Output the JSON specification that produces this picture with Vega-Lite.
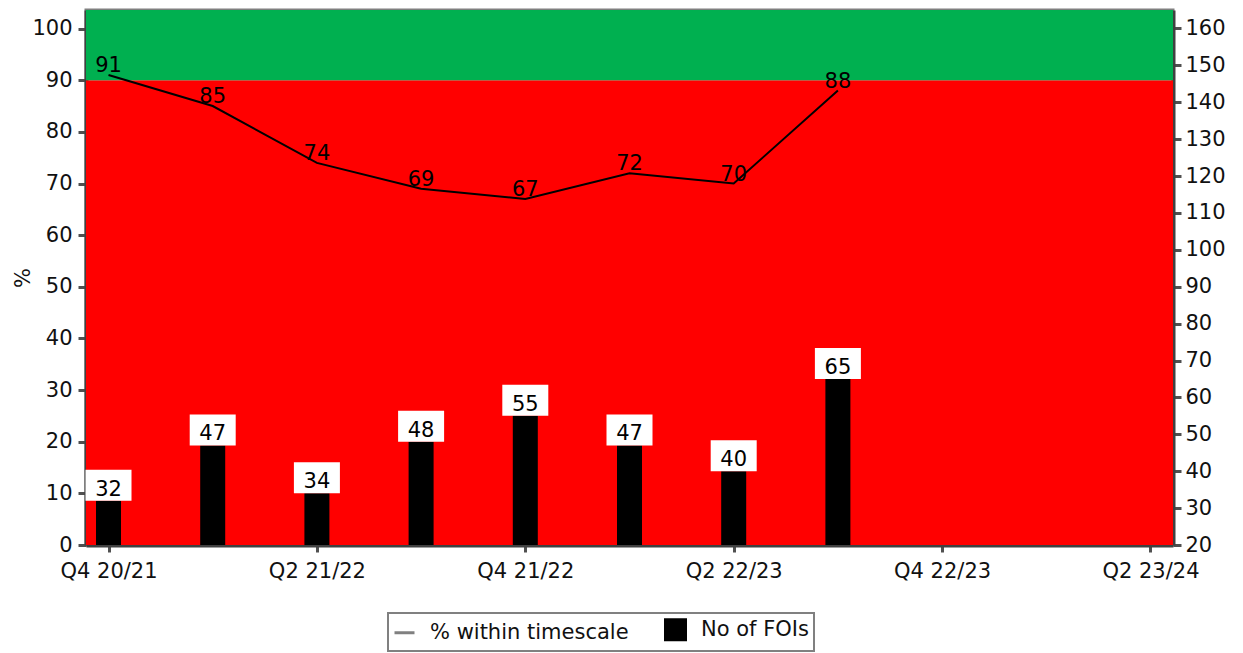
{
  "$schema": "https://vega.github.io/schema/vega-lite/v6.json",
  "width": 1087,
  "height": 535,
  "autosize": "none",
  "padding": {"left": 86, "top": 10, "right": 70, "bottom": 108},
  "background": "white",
  "config": {
    "font": "DejaVu Sans",
    "view": {"stroke": "#7f7f7f", "strokeWidth": 3},
    "axis": {
      "labelFont": "DejaVu Sans",
      "labelFontSize": 21,
      "labelColor": "#111111",
      "labelOverlap": false,
      "domainColor": "#404040",
      "domainWidth": 4,
      "tickColor": "#505050",
      "tickWidth": 3,
      "grid": false,
      "titleFont": "DejaVu Sans",
      "titleFontWeight": "normal",
      "titleFontSize": 21,
      "titleColor": "#111111"
    }
  },
  "datasets": {
    "perf": [
      {"quarter": "Q4 20/21", "pct": 91, "fois": 32},
      {"quarter": "Q1 21/22", "pct": 85, "fois": 47},
      {"quarter": "Q2 21/22", "pct": 74, "fois": 34},
      {"quarter": "Q3 21/22", "pct": 69, "fois": 48},
      {"quarter": "Q4 21/22", "pct": 67, "fois": 55},
      {"quarter": "Q1 22/23", "pct": 72, "fois": 47},
      {"quarter": "Q2 22/23", "pct": 70, "fois": 40},
      {"quarter": "Q3 22/23", "pct": 88, "fois": 65}
    ],
    "bands": [
      {"band": "below target", "from": 0, "to": 90},
      {"band": "on target", "from": 90, "to": 103.6}
    ]
  },
  "layer": [
    {
      "layer": [
        {
          "data": {"name": "bands"},
          "mark": {"type": "rect"},
          "encoding": {
            "y": {"field": "from", "type": "quantitative", "scale": {"domain": [0, 103.6], "nice": false, "zero": false},
              "axis": {"title": "%", "orient": "left", "values": [0,10,20,30,40,50,60,70,80,90,100], "tickSize": 8, "labelPadding": 6, "titlePadding": -2, "labelOverlap": false}},
            "y2": {"field": "to"},
            "fill": {"field": "band", "type": "nominal", "scale": {"domain": ["below target", "on target"], "range": ["#ff0000", "#00b050"]}, "legend": null}
          }
        },
        {
          "data": {"name": "perf"},
          "mark": {"type": "line", "strokeWidth": 2, "color": "black"},
          "encoding": {
            "x": {"field": "quarter", "type": "ordinal", "sort": null,
              "scale": {"type": "point", "padding": 0.216, "domain": ["Q4 20/21","Q1 21/22","Q2 21/22","Q3 21/22","Q4 21/22","Q1 22/23","Q2 22/23","Q3 22/23","Q4 22/23","Q1 23/24","Q2 23/24"]},
              "axis": {"title": null, "labelAngle": 0, "values": ["Q4 20/21","Q2 21/22","Q4 21/22","Q2 22/23","Q4 22/23","Q2 23/24"], "tickSize": 7, "labelPadding": 8}},
            "y": {"field": "pct", "type": "quantitative", "axis": {"title": "%"}}
          }
        },
        {
          "data": {"name": "perf"},
          "transform": [{"filter": "datum.pct < 0"}],
          "mark": {"type": "line", "strokeWidth": 3},
          "encoding": {
            "x": {"field": "quarter", "type": "ordinal", "sort": null},
            "y": {"field": "pct", "type": "quantitative", "axis": {"title": "%"}},
            "color": {"datum": "% within timescale", "type": "nominal",
              "scale": {"domain": ["% within timescale", "No of FOIs"], "range": ["#808080", "black"]},
              "legend": {
                "title": null, "orient": "none", "legendX": 302, "legendY": 603, "direction": "horizontal",
                "padding": 5, "strokeColor": "#808080", "fillColor": "white",
                "labelFont": "DejaVu Sans", "labelFontSize": 21, "labelColor": "#111111", "labelLimit": 400,
                "symbolSize": 400, "labelOffset": 14, "columnPadding": 30, "symbolStrokeWidth": 3,
                "encode": {
                  "legend": {"update": {"strokeWidth": {"value": 2}}},
                  "symbols": {"update": {
                    "shape": {"signal": "datum.value === '% within timescale' ? 'stroke' : 'square'"}
                  }}
                }
              }
            }
          }
        },
        {
          "data": {"name": "perf"},
          "mark": {"type": "text", "fontSize": 21, "baseline": "alphabetic", "dy": -3, "color": "black"},
          "encoding": {
            "x": {"field": "quarter", "type": "ordinal", "sort": null},
            "y": {"field": "pct", "type": "quantitative", "axis": {"title": "%"}},
            "text": {"field": "pct", "type": "quantitative"}
          }
        }
      ]
    },
    {
      "layer": [
        {
          "data": {"name": "perf"},
          "mark": {"type": "bar", "width": 25},
          "encoding": {
            "x": {"field": "quarter", "type": "ordinal", "sort": null},
            "y": {"field": "fois", "type": "quantitative", "scale": {"domain": [20, 165], "nice": false, "zero": false},
              "axis": {"title": null, "orient": "right", "values": [20,30,40,50,60,70,80,90,100,110,120,130,140,150,160], "tickCount": 15, "tickSize": 8, "labelPadding": 4, "labelOverlap": false}},
            "y2": {"datum": 20},
            "color": {"datum": "No of FOIs", "type": "nominal"}
          }
        },
        {
          "data": {"name": "perf"},
          "mark": {"type": "point", "shape": "M-1,-1.348L1,-1.348L1,0L-1,0Z", "filled": true, "size": 2116, "color": "white", "opacity": 1, "strokeWidth": 0},
          "encoding": {
            "x": {"field": "quarter", "type": "ordinal", "sort": null},
            "y": {"field": "fois", "type": "quantitative",
              "axis": {"title": null, "orient": "right", "values": [20,30,40,50,60,70,80,90,100,110,120,130,140,150,160], "tickCount": 15, "tickSize": 8, "labelPadding": 4, "labelOverlap": false}}
          }
        },
        {
          "data": {"name": "perf"},
          "mark": {"type": "text", "fontSize": 21, "baseline": "alphabetic", "dy": -5, "color": "black"},
          "encoding": {
            "x": {"field": "quarter", "type": "ordinal", "sort": null},
            "y": {"field": "fois", "type": "quantitative",
              "axis": {"title": null, "orient": "right", "values": [20,30,40,50,60,70,80,90,100,110,120,130,140,150,160], "tickCount": 15, "tickSize": 8, "labelPadding": 4, "labelOverlap": false}},
            "text": {"field": "fois", "type": "quantitative"}
          }
        }
      ]
    }
  ],
  "resolve": {"scale": {"y": "independent"}}
}
